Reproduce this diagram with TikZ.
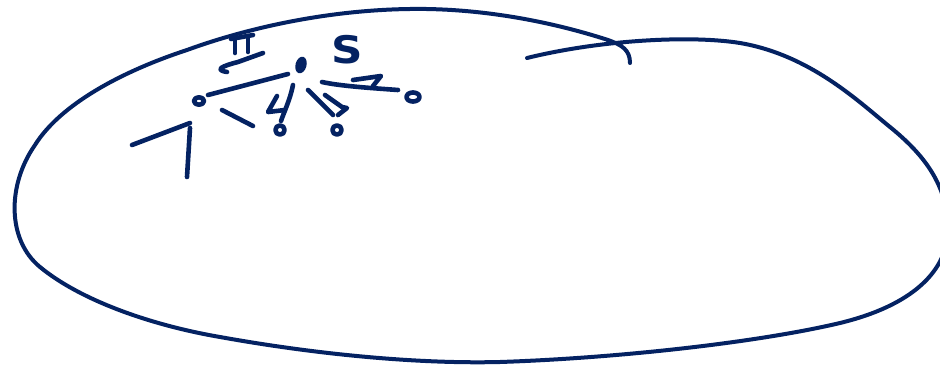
\documentclass[tikz,border=0pt]{standalone}
\usepackage{fontspec}
\setmainfont{DejaVu Sans}
\definecolor{ink}{RGB}{4,34,98}
\begin{document}
\begin{tikzpicture}[x=1pt,y=-1pt,
  pen/.style={draw=ink,line width=4pt,line cap=round,line join=round},
  thick pen/.style={draw=ink,line width=4.6pt,line cap=round,line join=round}]
\useasboundingbox (0,0) rectangle (940,369);
% outer loop
\draw[pen] (630,63) .. controls (630,50) and (622,45) .. (608,40)
  .. controls (540,18) and (470,8) .. (410,9)
  .. controls (330,10) and (250,27) .. (187,50)
  .. controls (120,72) and (60,105) .. (35,145)
  .. controls (7,185) and (7,240) .. (40,267)
  .. controls (80,300) and (150,325) .. (220,337)
  .. controls (320,355) and (420,364) .. (500,362)
  .. controls (620,358) and (760,342) .. (840,323)
  .. controls (910,306) and (950,272) .. (948,225)
  .. controls (946,182) and (922,153) .. (890,127)
  .. controls (858,101) and (810,55) .. (740,43)
  .. controls (690,35) and (600,40) .. (527,58);
% centre dot
\fill[ink,rotate around={-15:(301,65)}] (301,65) ellipse (5.5 and 8.5);
% nodes
\draw[thick pen] (199,101) ellipse (5 and 3.8);
\draw[thick pen] (280,130) circle (4.6);
\draw[thick pen] (337,130) circle (4.6);
\draw[thick pen] (413,97) ellipse (6.5 and 4.5);
% edges
\draw[thick pen] (288,74) -- (208,95);
\draw[thick pen] (293,85) .. controls (290,100) and (284,112) .. (281,121);
\draw[thick pen] (308,90) -- (333,115);
\draw[thick pen] (322,82) .. controls (340,86) and (370,88) .. (398,90);
\draw[thick pen] (222,110) -- (253,126);
% direction marks
\draw[thick pen] (277,96) -- (268,112) -- (285,110);
\draw[thick pen] (325,95) -- (342,107) -- (347,108) -- (338,115);
\draw[thick pen] (353,80) -- (381,76) -- (373,86);
% H with arrow
\draw[thick pen] (235,39) -- (235,53);
\draw[thick pen] (248,36) -- (248,52);
\draw[thick pen] (231,39) -- (253,35);
\draw[thick pen] (263,53) -- (238,62) .. controls (222,66) and (214,70) .. (227,72);
% T shape
\draw[thick pen] (132,145) -- (190,123);
\draw[thick pen] (190,128) -- (187,177);
% S label
\node[text=ink,font=\fontsize{38}{38}\selectfont\bfseries,inner sep=0pt,xscale=1.15] (slabel) at (347,50) {S};
\end{tikzpicture}
\end{document}
